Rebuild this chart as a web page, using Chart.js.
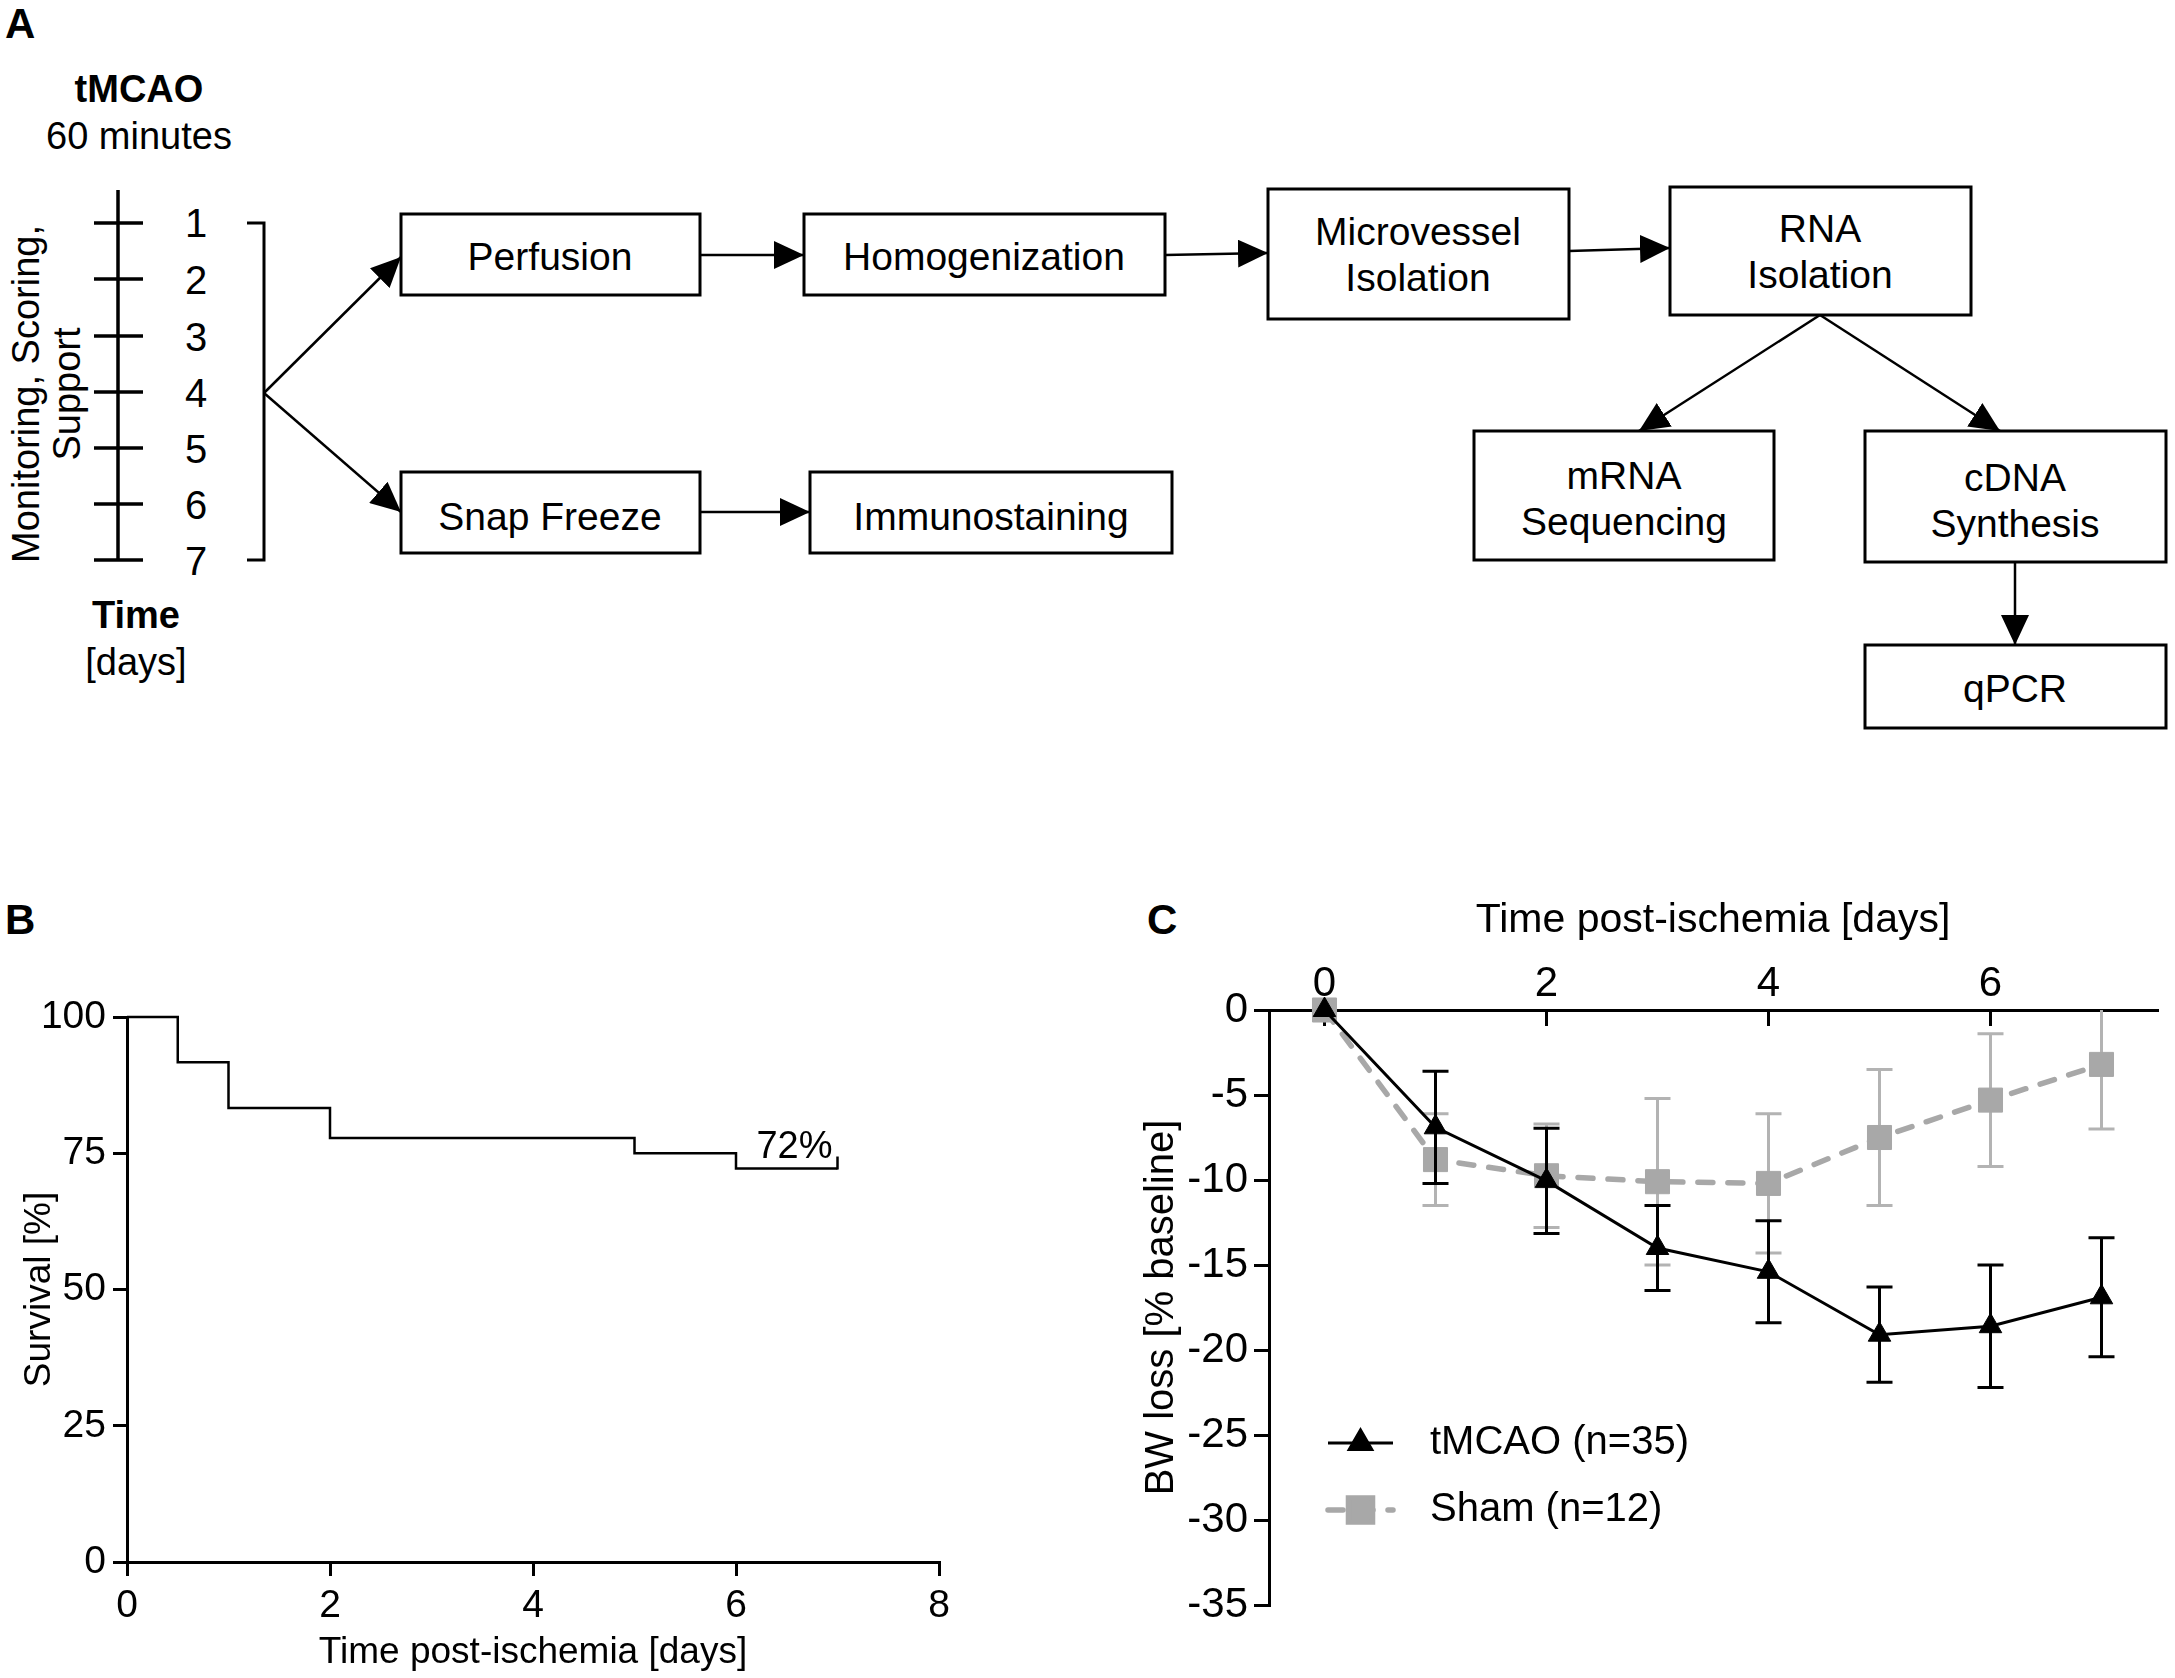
<!DOCTYPE html>
<html>
<head>
<meta charset="utf-8">
<script src="https://cdn.jsdelivr.net/npm/chart.js@4.4.0/dist/chart.umd.min.js"></script>
<style>
  body { margin: 0; background: #fff; width: 2175px; height: 1678px; position: relative; overflow: hidden;
         font-family: "Liberation Sans", Arial, sans-serif; }
  #flow { position: absolute; left: 0; top: 0; }
  .wrapB { position: absolute; left: 0; top: 880px; width: 1000px; height: 798px; }
  .wrapC { position: absolute; left: 1120px; top: 880px; width: 1055px; height: 798px; }
  .panel { position: absolute; font-weight: bold; font-size: 42px; line-height: 1; }
</style>
</head>
<body>

<svg id="flow" width="2175" height="880" font-family="Liberation Sans, Arial, sans-serif">
  <defs>
    <marker id="ah" viewBox="0 0 15 14" refX="15" refY="7" markerUnits="userSpaceOnUse"
            markerWidth="30" markerHeight="28" orient="auto">
      <path d="M0,0 L15,7 L0,14 z" fill="#000"/>
    </marker>
  </defs>

  <!-- timeline -->
  <g fill="#000" font-size="38" text-anchor="middle">
    <text x="139" y="89" font-weight="bold" dominant-baseline="central">tMCAO</text>
    <text x="139" y="136" dominant-baseline="central">60 minutes</text>
    <text x="136" y="615" font-weight="bold" dominant-baseline="central">Time</text>
    <text x="136" y="662" dominant-baseline="central">[days]</text>
    <text transform="translate(26,394) rotate(-90)" dominant-baseline="central">Monitoring, Scoring,</text>
    <text transform="translate(67,394) rotate(-90)" dominant-baseline="central">Support</text>
  </g>
  <g stroke="#000" stroke-width="3.5" fill="none">
    <line x1="118" y1="190" x2="118" y2="560"/>
    <line x1="94" y1="223" x2="143" y2="223"/>
    <line x1="94" y1="279" x2="143" y2="279"/>
    <line x1="94" y1="336" x2="143" y2="336"/>
    <line x1="94" y1="392" x2="143" y2="392"/>
    <line x1="94" y1="448" x2="143" y2="448"/>
    <line x1="94" y1="504" x2="143" y2="504"/>
    <line x1="94" y1="560" x2="143" y2="560"/>
    <polyline points="247,223 264,223 264,560 247,560" stroke-width="3"/>
  </g>
  <g fill="#000" font-size="40" text-anchor="middle" dominant-baseline="central">
    <text x="196" y="223">1</text><text x="196" y="280">2</text><text x="196" y="337">3</text>
    <text x="196" y="393">4</text><text x="196" y="449">5</text><text x="196" y="505">6</text>
    <text x="196" y="561">7</text>
  </g>

  <!-- arrows -->
  <g stroke="#000" stroke-width="2.5" fill="none" marker-end="url(#ah)">
    <line x1="264" y1="393" x2="401" y2="257"/>
    <line x1="264" y1="393" x2="401" y2="512"/>
    <line x1="700" y1="255" x2="804" y2="255"/>
    <line x1="1165" y1="255" x2="1268" y2="253"/>
    <line x1="1569" y1="251" x2="1670" y2="248"/>
    <line x1="1820" y1="315" x2="1639" y2="431"/>
    <line x1="1820" y1="315" x2="2000" y2="431"/>
    <line x1="2015" y1="562" x2="2015" y2="645"/>
    <line x1="700" y1="512" x2="810" y2="512"/>
  </g>

  <!-- boxes -->
  <g stroke="#000" stroke-width="3" fill="#fff">
    <rect x="401" y="214" width="299" height="81"/>
    <rect x="804" y="214" width="361" height="81"/>
    <rect x="1268" y="189" width="301" height="130"/>
    <rect x="1670" y="187" width="301" height="128"/>
    <rect x="1474" y="431" width="300" height="129"/>
    <rect x="1865" y="431" width="301" height="131"/>
    <rect x="1865" y="645" width="301" height="83"/>
    <rect x="401" y="472" width="299" height="81"/>
    <rect x="810" y="472" width="362" height="81"/>
  </g>
  <g fill="#000" font-size="39" text-anchor="middle" dominant-baseline="central">
    <text x="550" y="256">Perfusion</text>
    <text x="984" y="256">Homogenization</text>
    <text x="1418" y="231">Microvessel</text>
    <text x="1418" y="277">Isolation</text>
    <text x="1820" y="228">RNA</text>
    <text x="1820" y="274">Isolation</text>
    <text x="1624" y="475">mRNA</text>
    <text x="1624" y="521">Sequencing</text>
    <text x="2015" y="477">cDNA</text>
    <text x="2015" y="523">Synthesis</text>
    <text x="2015" y="688">qPCR</text>
    <text x="550" y="516">Snap Freeze</text>
    <text x="991" y="516">Immunostaining</text>
  </g>
</svg>

<div class="panel" style="left:5px;top:3px;">A</div>
<div class="panel" style="left:5px;top:899px;">B</div>
<div class="panel" style="left:1147px;top:899px;">C</div>

<div class="wrapB"><canvas id="survival" width="1000" height="798"></canvas></div>
<div class="wrapC"><canvas id="bwloss" width="1055" height="798"></canvas></div>

<script>
// ---- panel B: survival ----
const survivalDays = [0, 0.5, 1, 2, 5, 6, 7];
const survivalPct = [100, 91.7, 83.3, 77.8, 75, 72.2, 72.2];
const survivalTicksX = [0, 2, 4, 6, 8];
const survivalTicksY = [0, 25, 50, 75, 100];
const finalLabel = '72%';

// ---- panel C: body weight loss ----
const bwDays = [0, 1, 2, 3, 4, 5, 6, 7];
const tmcaoMean = [0, -6.9, -10.05, -14.0, -15.4, -19.1, -18.6, -16.9];
const tmcaoSD = [0, 3.3, 3.1, 2.5, 3.0, 2.8, 3.6, 3.5];
const shamMean = [0, -8.8, -9.75, -10.1, -10.2, -7.5, -5.3, -3.2];
const shamSD = [0, 2.7, 3.05, 4.9, 4.1, 4.0, 3.9, 3.8];
const bwTicksX = [0, 2, 4, 6];
const bwTicksY = [0, -5, -10, -15, -20, -25, -30, -35];

const FONT = '"Liberation Sans", Arial, sans-serif';

const axisStyle = (size) => ({
  border: { display: true, color: '#000', width: 3 },
  grid: { display: true, drawOnChartArea: false, color: '#000', lineWidth: 3, tickLength: 14 },
  ticks: { color: '#000', font: { size: size, family: FONT }, maxRotation: 0, autoSkip: false }
});

const survivalMarks = {
  id: 'survivalMarks',
  afterDatasetsDraw(chart) {
    const { ctx, scales: { x, y } } = chart;
    const last = survivalDays.length - 1;
    const px = x.getPixelForValue(survivalDays[last]);
    const py = y.getPixelForValue(survivalPct[last]);
    ctx.save();
    ctx.strokeStyle = '#000';
    ctx.lineWidth = 2.5;
    ctx.beginPath();
    ctx.moveTo(px, py + 1);
    ctx.lineTo(px, py - 12);
    ctx.stroke();
    ctx.fillStyle = '#000';
    ctx.font = '38px ' + FONT;
    ctx.textAlign = 'right';
    ctx.textBaseline = 'alphabetic';
    ctx.fillText(finalLabel, px - 5, py - 11);
    ctx.restore();
  }
};

const bx = axisStyle(39), by = axisStyle(39);
bx.ticks.padding = 7;
by.ticks.padding = 7;
new Chart(document.getElementById('survival'), {
  type: 'line',
  data: {
    datasets: [{
      data: survivalDays.map((d, i) => ({ x: d, y: survivalPct[i] })),
      stepped: true,
      borderColor: '#000',
      borderWidth: 2.5,
      pointRadius: 0,
      fill: false,
      clip: false
    }]
  },
  options: {
    responsive: false,
    animation: false,
    layout: { padding: { left: 0, top: 137, right: 61, bottom: 0 } },
    plugins: { legend: { display: false }, tooltip: { enabled: false } },
    scales: {
      x: Object.assign(bx, {
        type: 'linear', min: 0, max: 8,
        afterBuildTicks: s => { s.ticks = survivalTicksX.map(v => ({ value: v })); },
        afterFit: s => { s.height = 116; },
        title: { display: true, text: 'Time post-ischemia [days]', color: '#000',
                 font: { size: 37, family: FONT }, padding: { top: 0, bottom: 3 } }
      }),
      y: Object.assign(by, {
        type: 'linear', min: 0, max: 100,
        afterBuildTicks: s => { s.ticks = survivalTicksY.map(v => ({ value: v })); },
        afterFit: s => { s.width = 127; },
        title: { display: true, text: 'Survival [%]', color: '#000',
                 font: { size: 37, family: FONT }, padding: { top: 18, bottom: 0 } }
      })
    }
  },
  plugins: [survivalMarks]
});

// error bars drawn just before each dataset so the order matches; clipped at the plot edge
const errorBars = {
  id: 'errorBars',
  beforeDatasetDraw(chart, args) {
    const ds = chart.data.datasets[args.index];
    if (!ds.errors) return;
    const { ctx, chartArea, scales: { x, y } } = chart;
    ctx.save();
    ctx.beginPath();
    ctx.rect(chartArea.left - 40, chartArea.top, chartArea.width + 80, chartArea.height + 40);
    ctx.clip();
    ctx.strokeStyle = ds.errorColor;
    ctx.lineWidth = 3;
    ds.data.forEach((p, i) => {
      const e = ds.errors[i];
      if (!e) return;
      const px = x.getPixelForValue(p.x);
      const top = y.getPixelForValue(p.y + e);
      const bot = y.getPixelForValue(p.y - e);
      ctx.beginPath();
      ctx.moveTo(px, top); ctx.lineTo(px, bot);
      ctx.moveTo(px - 13, top); ctx.lineTo(px + 13, top);
      ctx.moveTo(px - 13, bot); ctx.lineTo(px + 13, bot);
      ctx.stroke();
    });
    ctx.restore();
  }
};

const insideLegend = {
  id: 'insideLegend',
  afterDraw(chart) {
    const { ctx, chartArea } = chart;
    chart.data.datasets.forEach((ds, i) => {
      const yy = chartArea.top + 433 + i * 67;
      const x0 = chartArea.left + 59, x1 = chartArea.left + 124;
      ctx.save();
      ctx.strokeStyle = ds.borderColor;
      ctx.lineWidth = ds.borderWidth;
      ctx.lineCap = ds.borderCapStyle || 'butt';
      ctx.setLineDash(ds.borderDash || []);
      ctx.beginPath();
      ctx.moveTo(x0, yy); ctx.lineTo(x1, yy);
      ctx.stroke();
      ctx.setLineDash([]);
      ctx.fillStyle = ds.pointBackgroundColor;
      ctx.strokeStyle = ds.pointBackgroundColor;
      Chart.helpers.drawPoint(ctx, { pointStyle: ds.pointStyle, radius: ds.pointRadius, borderWidth: 1, rotation: 0 },
                              (x0 + x1) / 2, yy);
      ctx.fillStyle = '#000';
      ctx.font = '40px ' + FONT;
      ctx.textAlign = 'left';
      ctx.textBaseline = 'middle';
      ctx.fillText(ds.label, chartArea.left + 161, yy);
      ctx.restore();
    });
  }
};

const cx = axisStyle(42), cy = axisStyle(42);
cx.grid.tickLength = -16;   // top axis ticks point into the plot
cx.ticks.padding = 16;
cy.grid.tickLength = 15;
cy.ticks.padding = 6;
new Chart(document.getElementById('bwloss'), {
  type: 'line',
  data: {
    datasets: [{
      label: 'tMCAO (n=35)',
      data: bwDays.map((d, i) => ({ x: d, y: tmcaoMean[i] })),
      errors: tmcaoSD,
      errorColor: '#000',
      borderColor: '#000',
      borderWidth: 3,
      pointStyle: 'triangle',
      pointRadius: 13,
      pointBackgroundColor: '#000',
      pointBorderColor: '#000',
      pointBorderWidth: 1,
      fill: false,
      clip: false
    }, {
      label: 'Sham (n=12)',
      data: bwDays.map((d, i) => ({ x: d, y: shamMean[i] })),
      errors: shamSD,
      errorColor: '#b3b3b3',
      borderColor: '#a8a8a8',
      borderWidth: 5.5,
      borderDash: [15, 15],
      borderCapStyle: 'round',
      pointStyle: 'rect',
      pointRadius: 17,
      pointBackgroundColor: '#a8a8a8',
      pointBorderColor: '#a8a8a8',
      pointBorderWidth: 1,
      fill: false,
      clip: false
    }]
  },
  options: {
    responsive: false,
    animation: false,
    layout: { padding: { left: 0, top: 0, right: 9, bottom: 73 } },
    plugins: { legend: { display: false }, tooltip: { enabled: false } },
    scales: {
      x: Object.assign(cx, {
        type: 'linear', position: 'top', min: -0.5, max: 7.5,
        afterBuildTicks: s => { s.ticks = bwTicksX.map(v => ({ value: v })); },
        afterFit: s => { s.height = 130; },
        title: { display: true, text: 'Time post-ischemia [days]', color: '#000',
                 font: { size: 41, family: FONT }, padding: { top: 16, bottom: 0 } }
      }),
      y: Object.assign(cy, {
        type: 'linear', min: -35, max: 0,
        afterBuildTicks: s => { s.ticks = bwTicksY.map(v => ({ value: v })); },
        afterFit: s => { s.width = 149; },
        title: { display: true, text: 'BW loss [% baseline]', color: '#000',
                 font: { size: 40, family: FONT }, padding: { top: 18, bottom: 0 } }
      })
    }
  },
  plugins: [errorBars, insideLegend]
});
</script>
</body>
</html>
